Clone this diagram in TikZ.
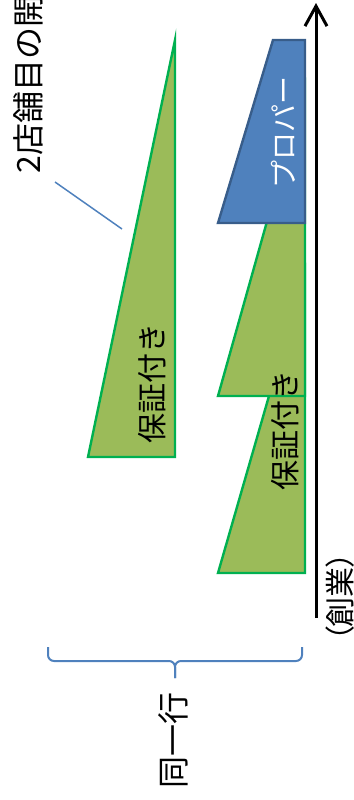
\documentclass[tikz,border=0pt]{standalone}
\usepackage{fontspec}
\setmainfont{Noto Sans CJK JP}
\newfontfamily\jpprop{Noto Sans CJK JP}[RawFeature=+palt]
\usepackage{tikz}
\usetikzlibrary{positioning,arrows.meta}
\definecolor{loancol}{RGB}{155,187,89}
\definecolor{loanedge}{RGB}{0,176,80}
\definecolor{propercol}{RGB}{79,129,189}
\definecolor{properedge}{RGB}{56,93,138}
\newcommand{\jpsize}{\fontsize{15pt}{18pt}\selectfont}
\newcommand{\jpsmall}{\fontsize{14pt}{17pt}\selectfont}
\newcommand{\jplarge}{\fontsize{16pt}{19pt}\selectfont}

\begin{document}
\begin{tikzpicture}[x=0.5pt, y=-0.5pt,
  loan/.style={fill=loancol, draw=loanedge, line width=1.2pt},
  proper/.style={fill=propercol, draw=properedge, line width=1.2pt},
  vlabel/.style={rotate=90, font=\jpsize, inner sep=0pt}]
\useasboundingbox (0,0) rectangle (354,800);
% time axis
\coordinate (axisstart) at (316,618);
\coordinate (axisend) at (316,3);
\draw[-{Straight Barb[length=10pt,width=11pt]}, line width=1.5pt] (axisstart) -- (axisend);
\node[vlabel, font=\jpsize\jpprop] (founding) at (340,597) {（創業）};
% first shop
\draw[loan] (218,573) -- (305,573) -- (305,271) -- cycle;
\draw[loan] (218,396) -- (305,396) -- (305,86) -- cycle;
\draw[proper] (218,223) -- (305,223) -- (305,40) -- (273,40) -- cycle;
\node[vlabel, font=\jpsmall, white] (proper) at (283,132) {プロパー};
\node[vlabel] (loanA) at (285,430) {保証付き};
% second shop
\draw[loan] (88,457) -- (175,457) -- (175,40) -- cycle;
\node[vlabel] (loanB) at (152,383) {保証付き};
\node[vlabel, font=\jplarge, anchor=west] (second) at (28,174) {2店舗目の開設};
\coordinate (calloutA) at (55,182);
\coordinate (calloutB) at (122,229);
\draw[propercol, line width=0.75pt] (calloutA) -- (calloutB);
% same bank
\coordinate (braceR) at (302,647);
\coordinate (braceL) at (48,647);
\coordinate (braceTip) at (175,678);
\draw[propercol, line width=1pt, rounded corners=3pt]
  (braceL) -- (48,661) -- (175,661) -- (braceTip);
\draw[propercol, line width=1pt, rounded corners=3pt]
  (braceR) -- (302,661) -- (175,661) -- (braceTip);
\node[vlabel, font=\jplarge] (bank) at (173,740) {同一行};
\end{tikzpicture}
\end{document}
